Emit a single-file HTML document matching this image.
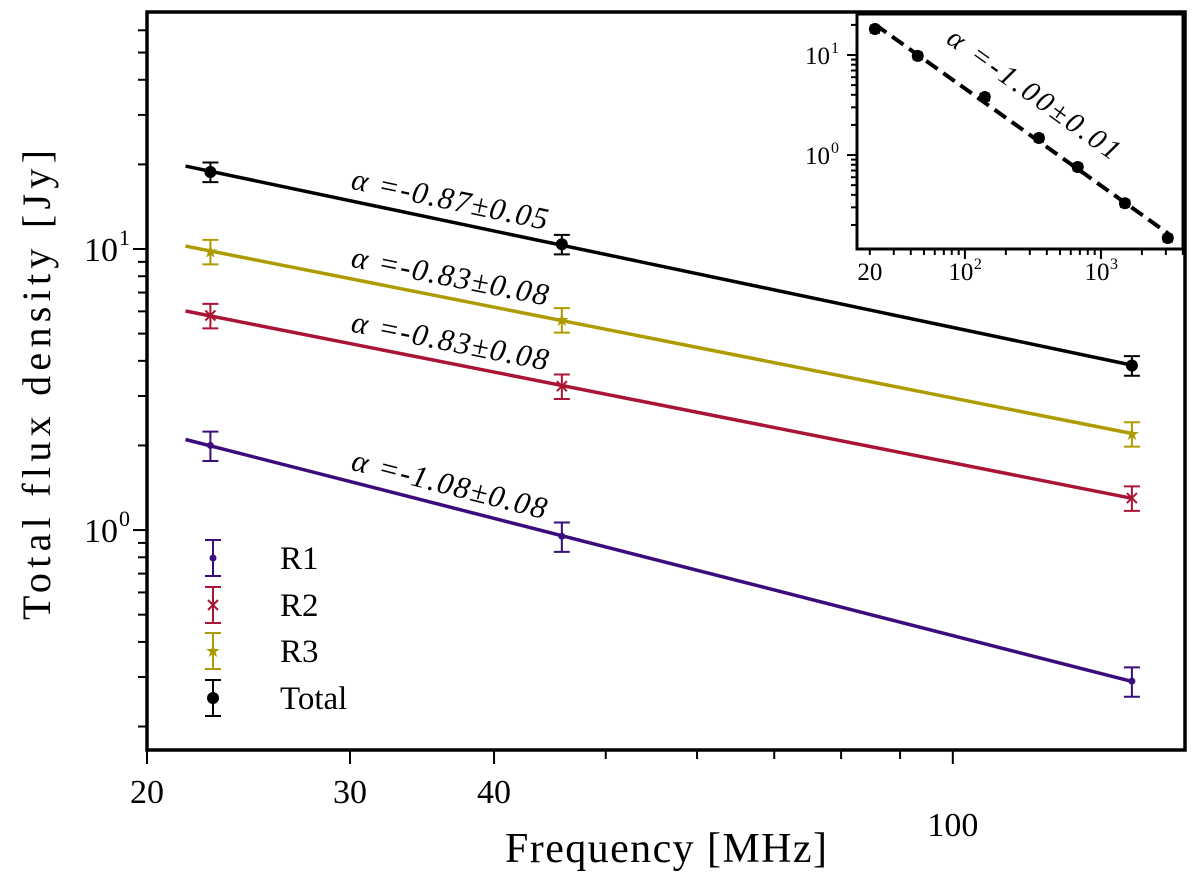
<!DOCTYPE html>
<html><head><meta charset="utf-8"><style>
html,body{margin:0;padding:0;background:#fff;}
svg{display:block;font-family:"Liberation Serif",serif;}
</style></head><body>
<svg id="chart" width="1200" height="885" viewBox="0 0 1200 885" xmlns="http://www.w3.org/2000/svg"></svg>
<script>
const freqs = [22.7, 45.8, 143];
const seriesNames = ["R1", "R2", "R3", "Total"];
const r1Values = [2.0, 0.95, 0.29];
const r2Values = [5.8, 3.25, 1.3];
const r3Values = [9.8, 5.6, 2.2];
const totalValues = [18.8, 10.4, 3.85];
const relErrors = [0.12, 0.1, 0.1, 0.08];
const alphaLabels = ["α =-1.08±0.08", "α =-0.83±0.08", "α =-0.83±0.08", "α =-0.87±0.05"];
const xTickValues = [20, 30, 40, 100];
const xTickLabels = ["20", "30", "40", "100"];
const insetFreqs = [21.8, 45, 140, 350, 675, 1500, 3100];
const insetValues = [18.2, 9.8, 3.8, 1.48, 0.76, 0.33, 0.148];
const insetAlphaLabel = "α =-1.00±0.01";

const colors = ["#3b0c7c", "#aa1535", "#ae9b00", "#000000"];
const markers = ["dot", "x", "star", "circle"];
const allValues = [r1Values, r2Values, r3Values, totalValues];

const NS = "http://www.w3.org/2000/svg";
const svg = document.getElementById("chart");
function el(tag, attrs, parent) {
  const e = document.createElementNS(NS, tag);
  for (const k in attrs) e.setAttribute(k, attrs[k]);
  (parent || svg).appendChild(e);
  return e;
}
const L = 147, R = 1185, T = 12, B = 750;
const xmin = 20, xmax = 159, ymin = 0.165, ymax = 69.7;
const lg = Math.log10;
const xs = v => L + (lg(v) - lg(xmin)) / (lg(xmax) - lg(xmin)) * (R - L);
const ys = v => B - (lg(v) - lg(ymin)) / (lg(ymax) - lg(ymin)) * (B - T);

const gt = el("g", {});


for (let d = 20; d <= 150; d += (d < 100 ? 10 : 100)) {
  const x = xs(d), major = xTickValues.includes(d);
  el("line", {x1: x, x2: x, y1: B, y2: B + (major ? 14 : 9), stroke: "#000", "stroke-width": 2}, gt);
}
xTickValues.forEach((v, i) => {
  const t = el("text", {x: xs(v), y: v === 100 ? 836 : 803, "text-anchor": "middle", "font-size": 34}, gt);
  t.textContent = xTickLabels[i];
  
  
});
const gy = el("g", {});


for (let e = -1; e <= 1; e++) for (let m = 1; m <= 9; m++) {
  const v = m * Math.pow(10, e);
  if (v < ymin || v > ymax) continue;
  const y = ys(v);
  el("line", {x1: L - (m === 1 ? 14 : 9), x2: L, y1: y, y2: y, stroke: "#000", "stroke-width": 2}, gy);
}
[[0, "10"], [1, "10"]].forEach(([e, b]) => {
  const t = el("text", {x: 118, y: ys(Math.pow(10, e)) + 12, "text-anchor": "end", "font-size": 34}, gy);
  t.textContent = b;
  
  
  const s = el("text", {x: 119, y: ys(Math.pow(10, e)) - 4, "font-size": 22}, gy);
  s.textContent = String(e);
});
const xt = el("text", {x: 666, y: 862, "text-anchor": "middle", "font-size": 42, textLength: 322});
xt.textContent = "Frequency [MHz]";


const yt = el("text", {x: 0, y: 0, "text-anchor": "middle", "font-size": 40, textLength: 470, transform: "translate(50,385) rotate(-90)"});
yt.textContent = "Total flux density [Jy]";



function marker(g, kind, x, y, c, sz) {
  if (kind === "dot") el("circle", {cx: x, cy: y, r: 3.5 * sz, fill: c}, g);
  else if (kind === "circle") el("circle", {cx: x, cy: y, r: 6 * sz, fill: c}, g);
  else if (kind === "x") { const d = 5 * sz; el("path", {d: `M${x-d},${y-d}L${x+d},${y+d}M${x-d},${y+d}L${x+d},${y-d}`, stroke: c, "stroke-width": 2}, g); }
  else { el("text", {x: x, y: y + 6 * sz, "text-anchor": "middle", "font-size": 18 * sz, fill: c}, g).textContent = "★"; }
}
function errbar(g, x, y1, y2, c, cap) {
  el("line", {x1: x, x2: x, y1: y1, y2: y2, stroke: c, "stroke-width": 2}, g);
  el("line", {x1: x - cap, x2: x + cap, y1: y1, y2: y1, stroke: c, "stroke-width": 2}, g);
  el("line", {x1: x - cap, x2: x + cap, y1: y2, y2: y2, stroke: c, "stroke-width": 2}, g);
}
function fit(fx, fy) {
  const X = fx.map(lg), Y = fy.map(lg), n = X.length;
  const mx = X.reduce((a, b) => a + b) / n, my = Y.reduce((a, b) => a + b) / n;
  let sxy = 0, sxx = 0;
  for (let i = 0; i < n; i++) { sxy += (X[i] - mx) * (Y[i] - my); sxx += (X[i] - mx) ** 2; }
  const a = sxy / sxx; return {a, b: my - a * mx};
}

const x0 = 21.6, x1 = 143;
allValues.forEach((vals, s) => {
  const g = el("g", {});
  
  
  const f = fit(freqs, vals);
  const px0 = xs(x0), py0 = ys(Math.pow(10, f.b + f.a * lg(x0)));
  const px1 = xs(x1), py1 = ys(Math.pow(10, f.b + f.a * lg(x1)));
  el("line", {x1: px0, y1: py0, x2: px1, y2: py1, stroke: colors[s], "stroke-width": 3.5}, g);
  vals.forEach((v, i) => {
    const x = xs(freqs[i]);
    errbar(g, x, ys(v * (1 + relErrors[s])), ys(v * (1 - relErrors[s])), colors[s], 8);
    marker(g, markers[s], x, ys(v), colors[s], 1);
  });
  const ang = Math.atan2(py1 - py0, px1 - px0) * 180 / Math.PI;
  const lx = 350, ly = py0 + (lx - px0) * (py1 - py0) / (px1 - px0) - 12;
  const t = el("text", {x: lx, y: ly, "font-size": 31, "font-style": "italic", textLength: 200, fill: "#000", transform: `rotate(${ang} ${lx} ${ly})`});
  t.textContent = alphaLabels[s];
  
  
});

el("rect", {x: L, y: T, width: R - L, height: B - T, fill: "none", stroke: "#000", "stroke-width": 3.5});

const lgG = el("g", {});


const legY = [558, 605, 651, 698];
seriesNames.forEach((n, s) => {
  const e = el("g", {}, lgG);
  
  
  errbar(e, 213, legY[s] - 18, legY[s] + 18, colors[s], 8);
  marker(e, markers[s], 213, legY[s], colors[s], 1);
  const t = el("text", {x: 280, y: legY[s] + 11, "font-size": 33}, e);
  t.textContent = n;
});

const IL = 857, IR = 1183, IT = 14, IB = 249;
const ixmin = 16.1, ixmax = 4010, iymin = 0.115, iymax = 25.7;
const ixs = v => IL + (lg(v) - lg(ixmin)) / (lg(ixmax) - lg(ixmin)) * (IR - IL);
const iys = v => IB - (lg(v) - lg(iymin)) / (lg(iymax) - lg(iymin)) * (IB - IT);
const gi = el("g", {});


el("rect", {x: IL, y: IT, width: IR - IL, height: IB - IT, fill: "#fff", stroke: "none"}, gi);
for (let e = 1; e <= 3; e++) for (let m = 1; m <= 9; m++) {
  const v = m * Math.pow(10, e); if (v < ixmin || v > ixmax) continue;
  el("line", {x1: ixs(v), x2: ixs(v), y1: IB, y2: IB + (m === 1 ? 10 : 6), stroke: "#000", "stroke-width": 2}, gi);
}
for (let e = -1; e <= 1; e++) for (let m = 1; m <= 9; m++) {
  const v = m * Math.pow(10, e); if (v < iymin || v > iymax) continue;
  el("line", {x1: IL - (m === 1 ? 10 : 6), x2: IL, y1: iys(v), y2: iys(v), stroke: "#000", "stroke-width": 2}, gi);
}
[[20, "20", ""], [100, "10", "2"], [1000, "10", "3"]].forEach(([v, b, sup]) => {
  const t = el("text", {x: ixs(v) - (sup ? 4 : 0), y: 280, "text-anchor": "middle", "font-size": 25}, gi);
  t.textContent = b;
  if (sup) el("text", {x: ixs(v) + 9, y: 269, "font-size": 16}, gi).textContent = sup;
});
[[1, "1"], [0, "0"]].forEach(([e, sup]) => {
  el("text", {x: 830, y: iys(Math.pow(10, e)) + 9, "text-anchor": "end", "font-size": 25}, gi).textContent = "10";
  el("text", {x: 831, y: iys(Math.pow(10, e)) - 2, "font-size": 16}, gi).textContent = sup;
});
const fi = fit(insetFreqs, insetValues);
const ia = insetFreqs[0], ib = insetFreqs[insetFreqs.length - 1];
el("line", {x1: ixs(ia), y1: iys(Math.pow(10, fi.b + fi.a * lg(ia))), x2: ixs(ib), y2: iys(Math.pow(10, fi.b + fi.a * lg(ib))), stroke: "#000", "stroke-width": 4, "stroke-dasharray": "14,7"}, gi);
insetValues.forEach((v, i) => {
  const x = ixs(insetFreqs[i]);
  errbar(gi, x, iys(v * 1.08), iys(v * 0.92), "#000", 5);
  marker(gi, "circle", x, iys(v), "#000", 1);
});
const ang2 = Math.atan2(iys(Math.pow(10, fi.b + fi.a * lg(ib))) - iys(Math.pow(10, fi.b + fi.a * lg(ia))), ixs(ib) - ixs(ia)) * 180 / Math.PI;
const it = el("text", {x: 945, y: 42, "font-size": 29, "font-style": "italic", textLength: 205, transform: `rotate(${ang2} 945 42)`}, gi);
it.textContent = insetAlphaLabel;


el("rect", {x: IL, y: IT, width: IR - IL, height: IB - IT, fill: "none", stroke: "#000", "stroke-width": 3}, gi);
</script>
</body></html>
